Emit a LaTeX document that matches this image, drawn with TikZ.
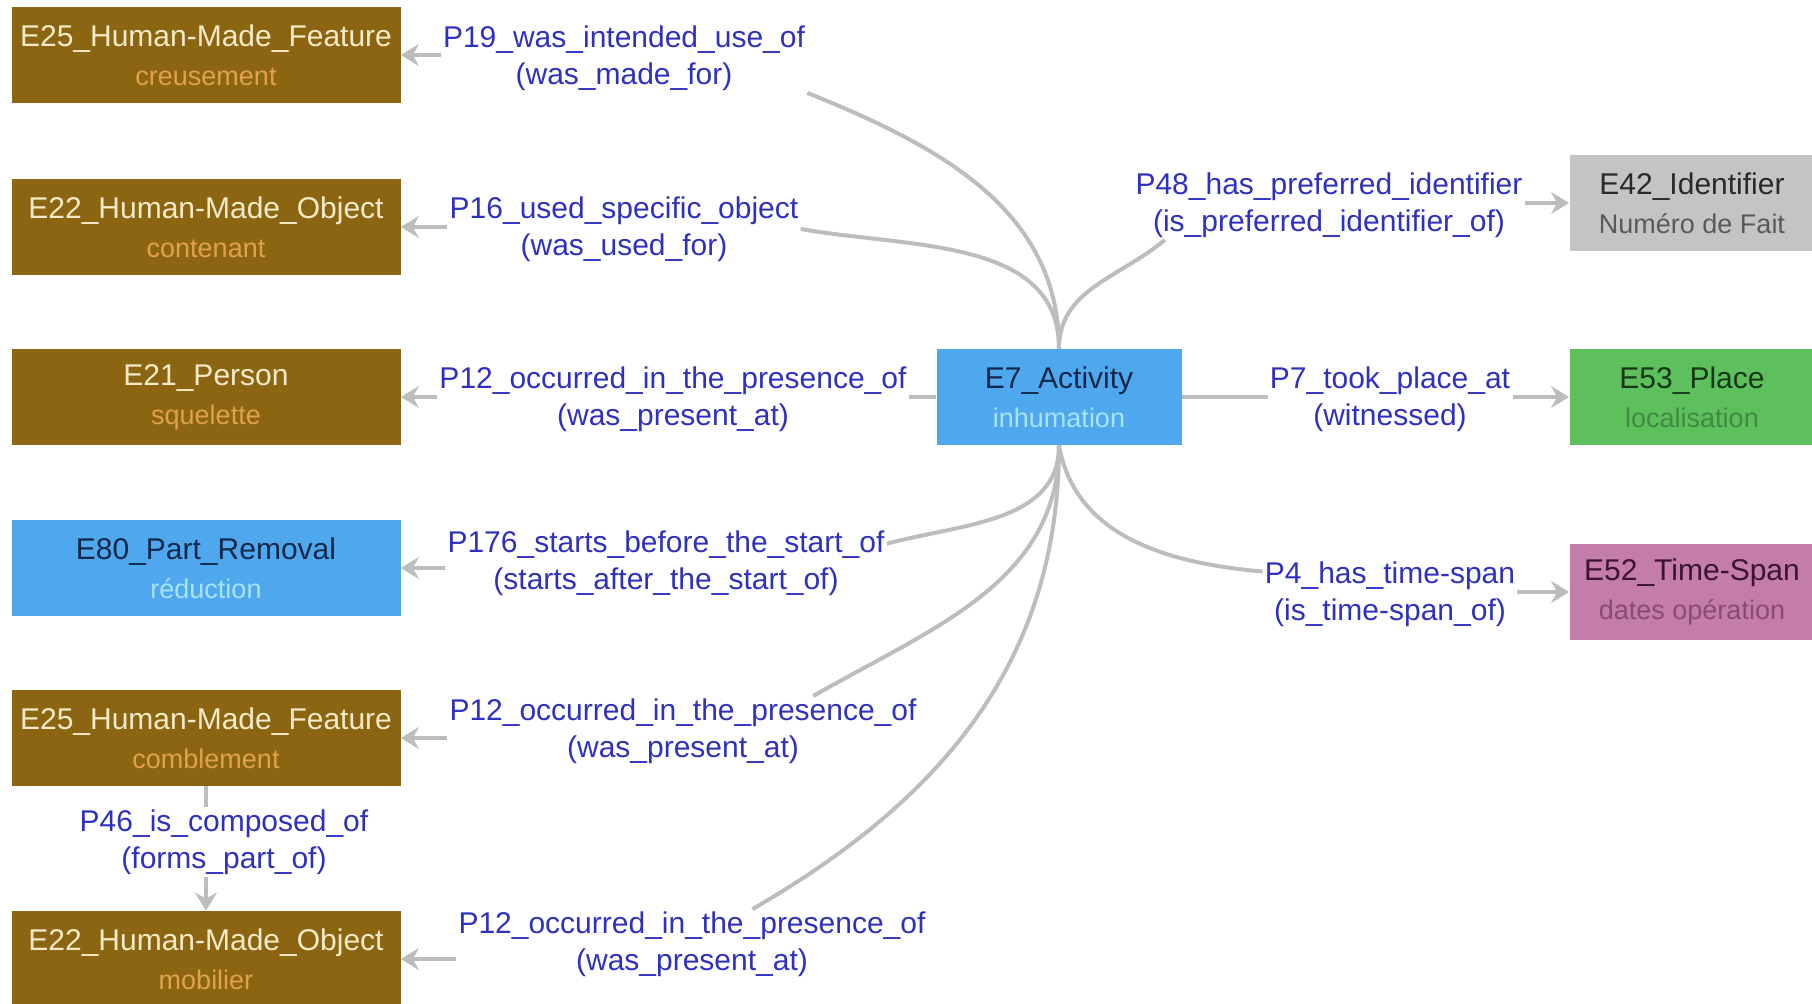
\documentclass[tikz,border=0pt]{standalone}
\usepackage{fontspec}
\setmainfont{Liberation Sans}
\usetikzlibrary{arrows.meta,positioning}

\definecolor{brownfill}{HTML}{8C6512}
\definecolor{browntitle}{HTML}{F5EBC8}
\definecolor{brownsub}{HTML}{E0A24A}
\definecolor{bluefill}{HTML}{4FA8EE}
\definecolor{bluetitle}{HTML}{13284A}
\definecolor{bluesub}{HTML}{A8E4FF}
\definecolor{greyfill}{HTML}{C4C4C4}
\definecolor{greytitle}{HTML}{2A2A2A}
\definecolor{greysub}{HTML}{5A5A5A}
\definecolor{greenfill}{HTML}{5DC05D}
\definecolor{greentitle}{HTML}{173817}
\definecolor{greensub}{HTML}{3F8A3F}
\definecolor{pinkfill}{HTML}{C47CA9}
\definecolor{pinktitle}{HTML}{3A1432}
\definecolor{pinksub}{HTML}{8A4A78}
\definecolor{propblue}{HTML}{3030C0}
\definecolor{linkgray}{HTML}{BDBDBD}

\newcommand{\ent}[3]{#1\\{\color{#2}\fontsize{13.5}{19.5}\selectfont #3}}

\begin{document}
\begin{tikzpicture}[x=0.5pt,y=0.5pt]
\tikzstyle{ent}=[rectangle,align=center,inner sep=2pt,minimum height=48pt,font=\fontsize{15}{19.5}\selectfont]
\tikzstyle{lbox}=[ent,minimum width=194.5pt]
\tikzstyle{rbox}=[ent,minimum width=122.5pt]
\tikzstyle{prop}=[rectangle,align=center,text=propblue,inner sep=1pt,font=\fontsize{15}{18.5}\selectfont]
\tikzstyle{link}=[draw=linkgray,line width=2pt]
\tikzstyle{linkto}=[link,-{Stealth[length=9pt,width=11pt,inset=3pt]}]
\useasboundingbox (0,0) rectangle (1812,-1004);

% classes
\node[lbox,fill=brownfill,text=browntitle] (feat) at (206,-55) {\ent{E25\_Human-Made\_Feature}{brownsub}{creusement}};
\node[lbox,fill=brownfill,text=browntitle] (cont) at (206,-227) {\ent{E22\_Human-Made\_Object}{brownsub}{contenant}};
\node[lbox,fill=brownfill,text=browntitle] (pers) at (206,-397) {\ent{E21\_Person}{brownsub}{squelette}};
\node[lbox,fill=bluefill,text=bluetitle] (rem) at (206,-568) {\ent{E80\_Part\_Removal}{bluesub}{réduction}};
\node[lbox,fill=brownfill,text=browntitle] (comb) at (206,-738) {\ent{E25\_Human-Made\_Feature}{brownsub}{comblement}};
\node[lbox,fill=brownfill,text=browntitle] (mob) at (206,-959) {\ent{E22\_Human-Made\_Object}{brownsub}{mobilier}};
\node[rbox,fill=bluefill,text=bluetitle] (act) at (1059,-397) {\ent{E7\_Activity}{bluesub}{inhumation}};
\node[rbox,fill=greyfill,text=greytitle] (idf) at (1692,-203) {\ent{E42\_Identifier}{greysub}{Numéro de Fait}};
\node[rbox,fill=greenfill,text=greentitle] (plc) at (1692,-397) {\ent{E53\_Place}{greensub}{localisation}};
\node[rbox,fill=pinkfill,text=pinktitle] (tsp) at (1692,-592) {\ent{E52\_Time-Span}{pinksub}{dates opération}};

% properties
\node[prop] (l19) at (624,-58) {P19\_was\_intended\_use\_of\\(was\_made\_for)};
\node[prop] (l16) at (624,-229) {P16\_used\_specific\_object\\(was\_used\_for)};
\node[prop] (l12a) at (673,-399) {P12\_occurred\_in\_the\_presence\_of\\(was\_present\_at)};
\node[prop] (l176) at (666,-563) {P176\_starts\_before\_the\_start\_of\\(starts\_after\_the\_start\_of)};
\node[prop] (l12b) at (683,-731) {P12\_occurred\_in\_the\_presence\_of\\(was\_present\_at)};
\node[prop] (l12c) at (692,-944) {P12\_occurred\_in\_the\_presence\_of\\(was\_present\_at)};
\node[prop] (l46) at (224,-842) {P46\_is\_composed\_of\\(forms\_part\_of)};
\node[prop] (l48) at (1329,-205) {P48\_has\_preferred\_identifier\\(is\_preferred\_identifier\_of)};
\node[prop] (l7) at (1390,-399) {P7\_took\_place\_at\\(witnessed)};
\node[prop] (l4) at (1390,-594) {P4\_has\_time-span\\(is\_time-span\_of)};

% links from the activity
\draw[link] (act.north) to[out=90,in=-22] (l19.south east);
\draw[link] (act.north) to[out=90,in=-10] (l16.east);
\draw[link] (act.north) to[out=90,in=-140] (l48.-168);
\draw[link] (act.west) -- (act.west -| l12a.east);
\draw[link] (act.east) -- (act.east -| l7.west);
\draw[link] (act.south) to[out=-90,in=15] (l176.5);
\draw[link] (act.south) to[out=-90,in=30] (l12b.15);
\draw[link] (act.south) to[out=-90,in=30] (l12c.30);
\draw[link] (act.south) to[out=-80,in=175] (l4.170);

% arrows to the targets
\draw[linkto] (feat.east -| l19.west) -- (feat.east);
\draw[linkto] (cont.east -| l16.west) -- (cont.east);
\draw[linkto] (pers.east -| l12a.west) -- (pers.east);
\draw[linkto] (rem.east -| l176.west) -- (rem.east);
\draw[linkto] (comb.east -| l12b.west) -- (comb.east);
\draw[linkto] (mob.east -| l12c.west) -- (mob.east);
\draw[linkto] (idf.west -| l48.east) -- (idf.west);
\draw[linkto] (plc.west -| l7.east) -- (plc.west);
\draw[linkto] (tsp.west -| l4.east) -- (tsp.west);
\draw[link] (comb.south) -- (comb.south |- l46.north);
\draw[linkto] (l46.south -| mob.north) -- (mob.north);
\end{tikzpicture}
\end{document}
